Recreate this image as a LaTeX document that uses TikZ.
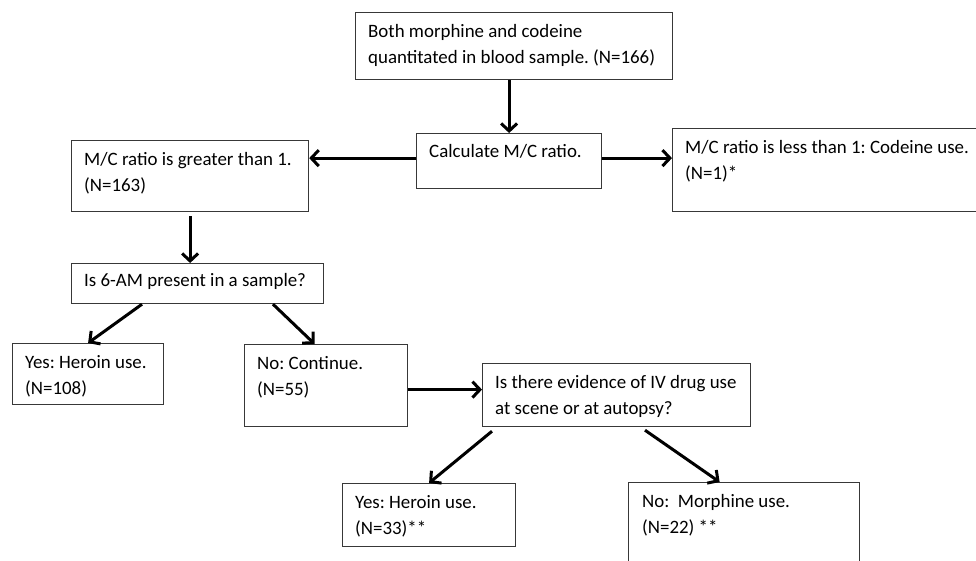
\documentclass[tikz,border=0pt]{standalone}
\usepackage{fontspec}
\setmainfont{Carlito}
\usetikzlibrary{arrows.meta,calc}
\begin{document}
\frenchspacing
\begin{tikzpicture}[x=1pt,y=-1pt,
  box/.style={draw=black!78, line width=1.2pt, rectangle, inner sep=0pt, anchor=north west},
  txt/.style={inner sep=0pt, anchor=base west, font=\fontsize{18.9}{26.7}\selectfont\frenchspacing},
  arr/.style={line width=3pt, -{Straight Barb[length=7.5pt,width=16pt,line width=3pt]}}]
\useasboundingbox (0,0) rectangle (976,560);
\fill[white] (0,0) rectangle (976,560);
\clip (0,0) rectangle (976,560);
% boxes
\node[box, minimum width=317pt, minimum height=67pt] (b1) at (355,12) {};
\node[box, minimum width=185pt, minimum height=55pt] (calc) at (416,133) {};
\node[box, minimum width=237pt, minimum height=71pt] (greater) at (71,140) {};
\node[box, minimum width=340pt, minimum height=83pt] (less) at (672,128) {};
\node[box, minimum width=252pt, minimum height=40pt] (sixam) at (71,263) {};
\node[box, minimum width=151pt, minimum height=61pt] (yes1) at (12,343) {};
\node[box, minimum width=163pt, minimum height=82pt] (no1) at (244,344) {};
\node[box, minimum width=268pt, minimum height=63pt] (iv) at (482,363) {};
\node[box, minimum width=173pt, minimum height=63pt] (yes2) at (342,483) {};
\node[box, minimum width=231pt, minimum height=100pt] (no2) at (628,482) {};
% texts
\node[txt] (tb1) at ([shift={(13pt,-25pt)}]b1.north west) {\parbox[t]{400pt}{Both morphine and codeine\\quantitated in blood sample. (N=166)}};
\node[txt] (tcalc) at ([shift={(13pt,-24pt)}]calc.north west) {\parbox[t]{300pt}{Calculate M/C ratio.}};
\node[txt] (tgreater) at ([shift={(13pt,-25pt)}]greater.north west) {\parbox[t]{300pt}{M/C ratio is greater than 1.\\(N=163)}};
\node[txt] (tless) at ([shift={(13pt,-25pt)}]less.north west) {\parbox[t]{400pt}{M/C ratio is less than 1: Codeine use.\\(N=1)*}};
\node[txt] (tsixam) at ([shift={(13pt,-23pt)}]sixam.north west) {\parbox[t]{300pt}{Is 6-AM present in a sample?}};
\node[txt] (tyes1) at ([shift={(13pt,-25pt)}]yes1.north west) {\parbox[t]{300pt}{Yes: Heroin use.\\(N=108)}};
\node[txt] (tno1) at ([shift={(13pt,-25pt)}]no1.north west) {\parbox[t]{300pt}{No: Continue.\\(N=55)}};
\node[txt] (tiv) at ([shift={(13pt,-25pt)}]iv.north west) {\parbox[t]{300pt}{Is there evidence of IV drug use\\at scene or at autopsy?}};
\node[txt] (tyes2) at ([shift={(13pt,-25pt)}]yes2.north west) {\parbox[t]{300pt}{Yes: Heroin use.\\(N=33)**}};
\node[txt] (tno2) at ([shift={(14pt,-25pt)}]no2.north west) {\parbox[t]{300pt}{No:\ \ Morphine use.\\(N=22) **}};
% arrows
\draw[arr] (calc.north |- b1.south) -- (calc.north);
\draw[arr] ([yshift=3pt]calc.west) -- ([yshift=3pt]calc.west -| greater.east);
\draw[arr] ([yshift=3pt]calc.east) -- ([yshift=3pt]calc.east -| less.west);
\draw[arr] ([yshift=-4pt]greater.south) -- (greater.south |- sixam.north);
\draw[arr] ([xshift=71pt]sixam.south west) -- (yes1.north);
\draw[arr] ([xshift=202pt]sixam.south west) -- ([xshift=-11.5pt]no1.north);
\draw[arr] ([yshift=-4pt]no1.east) -- ([yshift=-4pt]no1.east -| iv.west);
\draw[arr] ([shift={(10pt,-4pt)}]iv.south west) -- (yes2.north);
\draw[arr] ([shift={(163pt,-3pt)}]iv.south west) -- ([xshift=-24.5pt]no2.north);
\end{tikzpicture}
\end{document}
